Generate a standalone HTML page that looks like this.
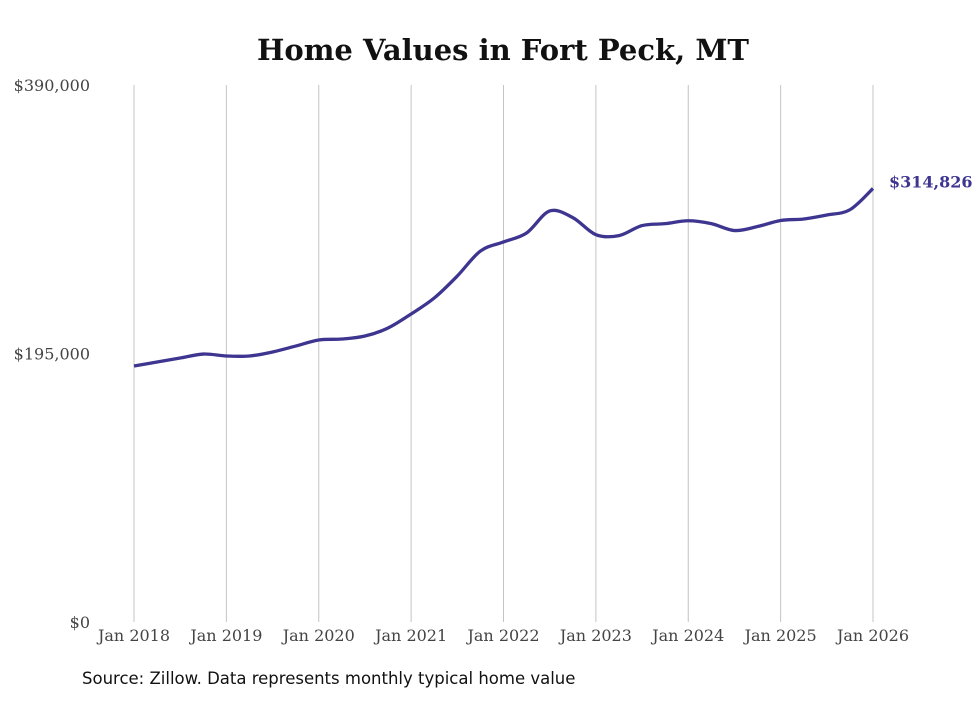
<!DOCTYPE html>
<html><head><meta charset="utf-8"><style>
body{margin:0;background:#fff;width:980px;height:699px;overflow:hidden}
svg text{font-family:"DejaVu Serif","Liberation Serif",serif}
</style></head><body>
<svg width="980" height="699">
<text x="503" y="60" text-anchor="middle" font-size="29" font-weight="bold" fill="#111">Home Values in Fort Peck, MT</text>
<g id="grid"></g><g id="yt"></g><g id="xt"></g>
<path id="line" fill="none" stroke="#3d3590" stroke-width="3.3"/>
<text id="endlabel" font-size="16" font-weight="bold" fill="#3d3590">$314,826</text>
<text x="82" y="684" font-size="16.5" fill="#111" style="font-family:'DejaVu Sans','Liberation Sans',sans-serif">Source: Zillow. Data represents monthly typical home value</text>
</svg>
<script>
const times=[2018,2018.25,2018.5,2018.75,2019,2019.25,2019.5,2019.75,2020,2020.25,2020.5,2020.75,2021,2021.25,2021.5,2021.75,2022,2022.25,2022.5,2022.75,2023,2023.25,2023.5,2023.75,2024,2024.25,2024.5,2024.75,2025,2025.25,2025.5,2025.75,2026];
const values=[185900,188800,191700,194600,193200,193200,196100,200400,204800,205500,207700,213500,223700,235300,251300,269400,276000,282500,298500,293700,281300,280600,287900,289300,291400,289300,284300,287200,291600,292700,295600,299400,314826];
const yTicks=[0,195000,390000];
const yLabels=["$0","$195,000","$390,000"];
const xTicks=[2018,2019,2020,2021,2022,2023,2024,2025,2026];
const xLabels=["Jan 2018","Jan 2019","Jan 2020","Jan 2021","Jan 2022","Jan 2023","Jan 2024","Jan 2025","Jan 2026"];
const X=t=>134+(t-2018)*(873-134)/8, Y=v=>622-v*(622-85)/390000;
const ns="http://www.w3.org/2000/svg";
function mk(tag,attrs,parent,txt){const e=document.createElementNS(ns,tag);for(const k in attrs)e.setAttribute(k,attrs[k]);if(txt!=null)e.textContent=txt;document.getElementById(parent).appendChild(e);return e;}
xTicks.forEach((t,i)=>{
 const g=mk('line',{x1:X(t),x2:X(t),y1:85,y2:622,stroke:'#c4c4c4','stroke-width':1},'grid');
 
 
 const l=mk('text',{x:X(t),y:641,'text-anchor':'middle','font-size':16,fill:'#444'},'xt',xLabels[i]);
 
 
});
yTicks.forEach((v,i)=>{
 const l=mk('text',{x:90,y:Y(v)+6,'text-anchor':'end','font-size':16,fill:'#444'},'yt',yLabels[i]);
 
 
});
const pts=times.map((t,i)=>[X(t),Y(values[i])]);
let d='M'+pts[0][0]+','+pts[0][1];
for(let i=0;i<pts.length-1;i++){
 const p0=pts[Math.max(0,i-1)],p1=pts[i],p2=pts[i+1],p3=pts[Math.min(pts.length-1,i+2)];
 d+=` C${p1[0]+(p2[0]-p0[0])/6},${p1[1]+(p2[1]-p0[1])/6} ${p2[0]-(p3[0]-p1[0])/6},${p2[1]-(p3[1]-p1[1])/6} ${p2[0]},${p2[1]}`;
}
document.getElementById('line').setAttribute('d',d);
const el=document.getElementById('endlabel');
el.setAttribute('x',X(times[times.length-1])+16);
el.setAttribute('y',Y(values[values.length-1])-1);
</script>
</body></html>
